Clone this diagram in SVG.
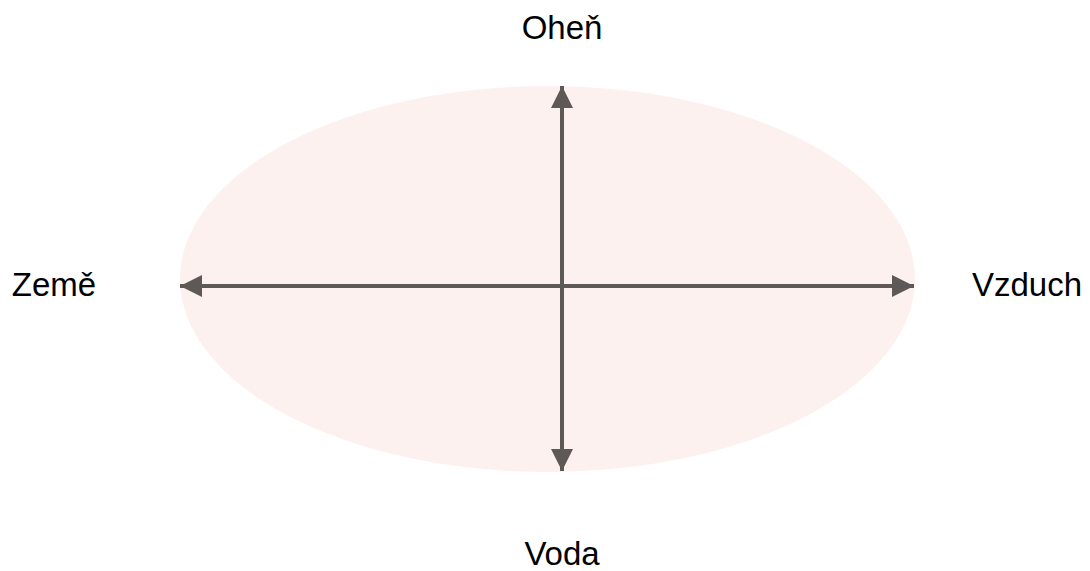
<svg xmlns="http://www.w3.org/2000/svg" width="1090" height="571" viewBox="0 0 1090 571">
<style>
.lbl{font-family:"Liberation Sans",Arial,sans-serif;font-size:33px;fill:#000;text-anchor:middle}
.ax{stroke:#5e5957;stroke-width:4;fill:none}
</style>
<defs>
<marker id="ah" viewBox="0 0 10 10" refX="10" refY="5" markerWidth="5.5" markerHeight="5.5" markerUnits="strokeWidth" orient="auto-start-reverse">
<path d="M0,0 L10,5 L0,10 Z" fill="#5e5957"/>
</marker>
</defs>
<rect width="1090" height="571" fill="#fff"/>
<g id="ellipse"><ellipse cx="547.5" cy="279" rx="367.5" ry="193" fill="#fdf1f0"/></g>
<g id="connectors">
<line class="ax" x1="562" y1="86" x2="562" y2="471" marker-start="url(#ah)" marker-end="url(#ah)"/>
<line class="ax" x1="180" y1="286" x2="914" y2="286" marker-start="url(#ah)" marker-end="url(#ah)"/>
</g>
<g id="ohen"><text class="lbl" x="562" y="39">Oheň</text></g>
<g id="voda"><text class="lbl" x="562" y="565">Voda</text></g>
<g id="zeme"><text class="lbl" x="54" y="296">Země</text></g>
<g id="vzduch"><text class="lbl" x="1027" y="296">Vzduch</text></g>
</svg>
